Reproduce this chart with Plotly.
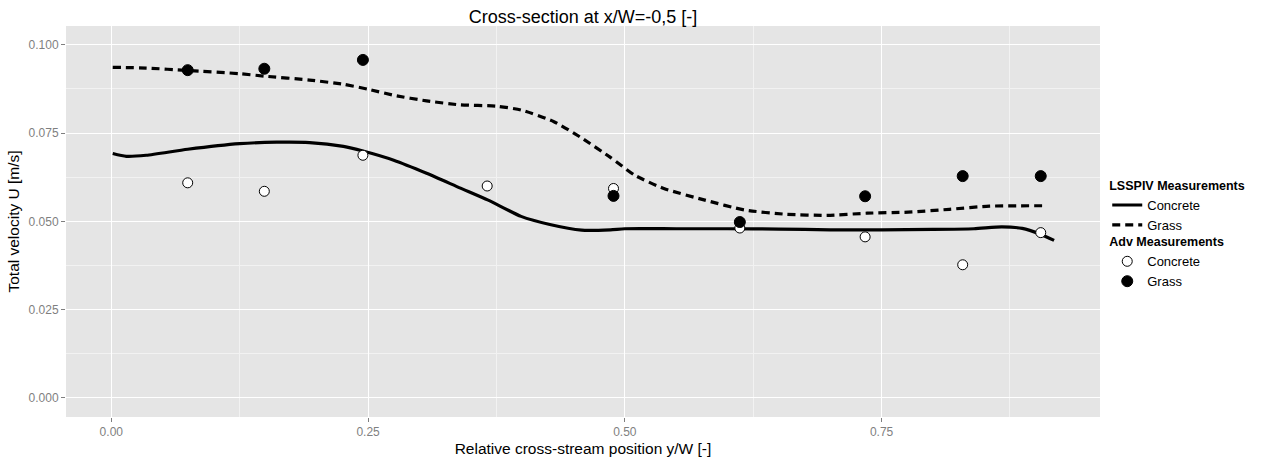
import plotly.graph_objects as go

# LSSPIV smoothed profiles (relative position y/W, total velocity U)
lsspiv_concrete_x = [0.0014, 0.0146, 0.034, 0.0744, 0.125, 0.161, 0.193, 0.226, 0.245, 0.275,
                     0.307, 0.340, 0.367, 0.399, 0.427, 0.458, 0.486, 0.5, 0.55, 0.6, 0.65,
                     0.70, 0.75, 0.80, 0.84, 0.867, 0.887, 0.905, 0.918]
lsspiv_concrete_u = [0.0692, 0.0684, 0.0687, 0.0704, 0.0720, 0.0724, 0.0723, 0.0712, 0.0699, 0.0673,
                     0.0636, 0.0594, 0.0560, 0.0514, 0.0491, 0.0475, 0.0476, 0.0479, 0.0479, 0.0479, 0.0478,
                     0.0476, 0.0476, 0.0477, 0.0479, 0.0484, 0.0480, 0.0463, 0.0446]

lsspiv_grass_x = [0.0014, 0.034, 0.0744, 0.125, 0.149, 0.193, 0.226, 0.25, 0.275, 0.307, 0.339,
                  0.375, 0.399, 0.431, 0.458, 0.486, 0.510, 0.538, 0.578, 0.617, 0.657, 0.697,
                  0.736, 0.776, 0.816, 0.855, 0.910]
lsspiv_grass_u = [0.0936, 0.0934, 0.0927, 0.0918, 0.0911, 0.0900, 0.0888, 0.0874, 0.0857, 0.0841, 0.0830,
                  0.0826, 0.0815, 0.0782, 0.0736, 0.0681, 0.0630, 0.0593, 0.0560, 0.0532, 0.0520, 0.0517,
                  0.0523, 0.0526, 0.0534, 0.0543, 0.0544]

# ADV point measurements
adv_concrete_x = [0.0744, 0.149, 0.245, 0.366, 0.489, 0.612, 0.734, 0.829, 0.905]
adv_concrete_u = [0.0609, 0.0585, 0.0687, 0.0600, 0.0593, 0.0481, 0.0456, 0.0377, 0.0468]

adv_grass_x = [0.0744, 0.149, 0.245, 0.489, 0.612, 0.734, 0.829, 0.905]
adv_grass_u = [0.0928, 0.0932, 0.0957, 0.0572, 0.0498, 0.0571, 0.0628, 0.0628]

x_ticks = [0.0, 0.25, 0.5, 0.75]
x_tick_labels = ["0.00", "0.25", "0.50", "0.75"]
y_ticks = [0.0, 0.025, 0.05, 0.075, 0.1]
y_tick_labels = ["0.000", "0.025", "0.050", "0.075", "0.100"]

FONT = "Liberation Sans, Arial, sans-serif"

fig = go.Figure()

fig.add_trace(go.Scatter(
    x=lsspiv_concrete_x, y=lsspiv_concrete_u, mode="lines", name="Concrete",
    line=dict(color="black", width=3.2, shape="spline", smoothing=0.6),
    legend="legend",
))
fig.add_trace(go.Scatter(
    x=lsspiv_grass_x, y=lsspiv_grass_u, mode="lines", name="Grass",
    line=dict(color="black", width=3.2, dash="8px,5px", shape="spline", smoothing=0.6),
    legend="legend",
))
fig.add_trace(go.Scatter(
    x=adv_concrete_x, y=adv_concrete_u, mode="markers", name="Concrete",
    marker=dict(symbol="circle", size=10, color="white", line=dict(color="black", width=1)),
    legend="legend2",
))
fig.add_trace(go.Scatter(
    x=adv_grass_x, y=adv_grass_u, mode="markers", name="Grass",
    marker=dict(symbol="circle", size=11, color="black", line=dict(color="black", width=1)),
    legend="legend2",
))

axis_common = dict(
    showline=False, zeroline=False,
    gridcolor="white", gridwidth=1.3,
    ticks="outside", ticklen=4, tickcolor="#7f7f7f", tickwidth=1,
    tickfont=dict(family=FONT, size=12, color="#7f7f7f"),
)

fig.update_layout(
    width=1265, height=466,
    margin=dict(l=66, r=165, t=26, b=44),
    paper_bgcolor="white", plot_bgcolor="#e5e5e5",
    font=dict(family=FONT, color="black"),
    title=dict(text="Cross-section at x/W=-0,5 [-]", x=0.4609, xanchor="center",
               yref="container", y=0.965, yanchor="middle",
               font=dict(family=FONT, size=18, color="black")),
    xaxis=dict(
        range=[-0.0441, 0.9627], tickvals=x_ticks, ticktext=x_tick_labels,
        minor=dict(tickvals=[0.125, 0.375, 0.625, 0.875], showgrid=True,
                   gridcolor="#f2f2f2", gridwidth=0.6, ticks=""),
        title=dict(text="Relative cross-stream position y/W [-]", standoff=4,
                   font=dict(family=FONT, size=15.5, color="black")),
        **axis_common,
    ),
    yaxis=dict(
        range=[-0.0054, 0.1053], tickvals=y_ticks, ticktext=y_tick_labels,
        minor=dict(tickvals=[0.0125, 0.0375, 0.0625, 0.0875], showgrid=True,
                   gridcolor="#f2f2f2", gridwidth=0.6, ticks=""),
        title=dict(text="Total velocity U [m/s]", standoff=5,
                   font=dict(family=FONT, size=15.5, color="black")),
        **axis_common,
    ),
    legend=dict(
        title=dict(text="<b>LSSPIV Measurements</b>", font=dict(family=FONT, size=12.5)),
        x=1.007, xanchor="left", y=0.622, yanchor="top",
        font=dict(family=FONT, size=13), itemwidth=30, tracegroupgap=0,
        bgcolor="rgba(0,0,0,0)",
    ),
    legend2=dict(
        title=dict(text="<b>Adv Measurements</b>", font=dict(family=FONT, size=12.5)),
        x=1.007, xanchor="left", y=0.478, yanchor="top",
        font=dict(family=FONT, size=13), itemwidth=30,
        bgcolor="rgba(0,0,0,0)",
    ),
)

fig.write_html("out.html")
